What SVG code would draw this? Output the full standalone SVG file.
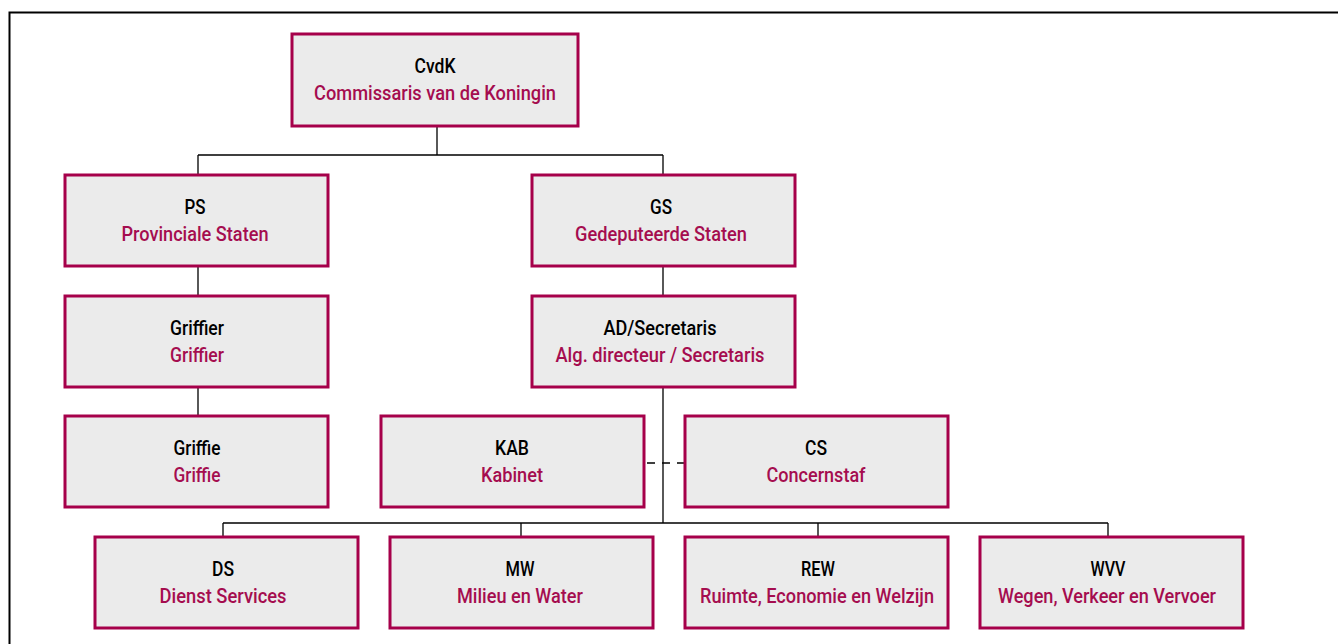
<svg xmlns="http://www.w3.org/2000/svg" width="1338" height="644" viewBox="0 0 1338 644">
<style>
.box{fill:#ebebeb;stroke:#a6004a;stroke-width:3}
.t{font-family:Roboto,"Liberation Sans",Arial,sans-serif;font-weight:500;font-size:20.5px;text-anchor:middle}
.a{fill:#000}
.b{fill:#a50d4f}
.c{fill:none;stroke:#000;stroke-width:1.3}
.d{fill:none;stroke:#000;stroke-width:1.3;stroke-dasharray:8 7}
</style>
<rect width="1338" height="644" fill="#fff"/>
<path d="M9.5 644V12.5H1338" fill="none" stroke="#000" stroke-width="2"/>
<g id="connectors">
<path class="c" d="M437 127V155M198 155H663M198 155V175M663 155V175M198 266V296M198 387V416M663 266V296M663 387V523M223 523H1108M223 523V537M521 523V537M818 523V537M1108 523V537"/>
<path class="d" d="M647 463H685"/>
</g>
<g id="cvdk"><rect class="box" x="292" y="34" width="286" height="92"/><text class="t a" x="435" y="73" textLength="41" lengthAdjust="spacingAndGlyphs">CvdK</text><text class="t b" x="435" y="100" textLength="242" lengthAdjust="spacingAndGlyphs">Commissaris van de Koningin</text></g>
<g id="ps"><rect class="box" x="65" y="175" width="263" height="91"/><text class="t a" x="195" y="214" textLength="21" lengthAdjust="spacingAndGlyphs">PS</text><text class="t b" x="195" y="241" textLength="147" lengthAdjust="spacingAndGlyphs">Provinciale Staten</text></g>
<g id="gs"><rect class="box" x="532" y="175" width="263" height="91"/><text class="t a" x="661" y="214" textLength="22" lengthAdjust="spacingAndGlyphs">GS</text><text class="t b" x="661" y="241" textLength="172" lengthAdjust="spacingAndGlyphs">Gedeputeerde Staten</text></g>
<g id="griffier"><rect class="box" x="65" y="296" width="263" height="91"/><text class="t a" x="197" y="335" textLength="54" lengthAdjust="spacingAndGlyphs">Griffier</text><text class="t b" x="197" y="362" textLength="54" lengthAdjust="spacingAndGlyphs">Griffier</text></g>
<g id="ad"><rect class="box" x="532" y="296" width="263" height="91"/><text class="t a" x="660" y="335" textLength="113" lengthAdjust="spacingAndGlyphs">AD/Secretaris</text><text class="t b" x="660" y="362" textLength="209" lengthAdjust="spacingAndGlyphs">Alg. directeur / Secretaris</text></g>
<g id="griffie"><rect class="box" x="65" y="416" width="263" height="91"/><text class="t a" x="197" y="455" textLength="47" lengthAdjust="spacingAndGlyphs">Griffie</text><text class="t b" x="197" y="482" textLength="47" lengthAdjust="spacingAndGlyphs">Griffie</text></g>
<g id="kab"><rect class="box" x="381" y="416" width="263" height="91"/><text class="t a" x="512" y="455" textLength="34" lengthAdjust="spacingAndGlyphs">KAB</text><text class="t b" x="512" y="482" textLength="62" lengthAdjust="spacingAndGlyphs">Kabinet</text></g>
<g id="cs"><rect class="box" x="685" y="416" width="263" height="91"/><text class="t a" x="816" y="455" textLength="22" lengthAdjust="spacingAndGlyphs">CS</text><text class="t b" x="816" y="482" textLength="99" lengthAdjust="spacingAndGlyphs">Concernstaf</text></g>
<g id="ds"><rect class="box" x="95" y="537" width="263" height="91"/><text class="t a" x="223" y="576" textLength="22" lengthAdjust="spacingAndGlyphs">DS</text><text class="t b" x="223" y="603" textLength="127" lengthAdjust="spacingAndGlyphs">Dienst Services</text></g>
<g id="mw"><rect class="box" x="390" y="537" width="263" height="91"/><text class="t a" x="520" y="576" textLength="29" lengthAdjust="spacingAndGlyphs">MW</text><text class="t b" x="520" y="603" textLength="126" lengthAdjust="spacingAndGlyphs">Milieu en Water</text></g>
<g id="rew"><rect class="box" x="685" y="537" width="263" height="91"/><text class="t a" x="818" y="576" textLength="34" lengthAdjust="spacingAndGlyphs">REW</text><text class="t b" x="817" y="603" textLength="234" lengthAdjust="spacingAndGlyphs">Ruimte, Economie en Welzijn</text></g>
<g id="wvv"><rect class="box" x="980" y="537" width="263" height="91"/><text class="t a" x="1108" y="576" textLength="35" lengthAdjust="spacingAndGlyphs">WVV</text><text class="t b" x="1107" y="603" textLength="218" lengthAdjust="spacingAndGlyphs">Wegen, Verkeer en Vervoer</text></g>
</svg>
